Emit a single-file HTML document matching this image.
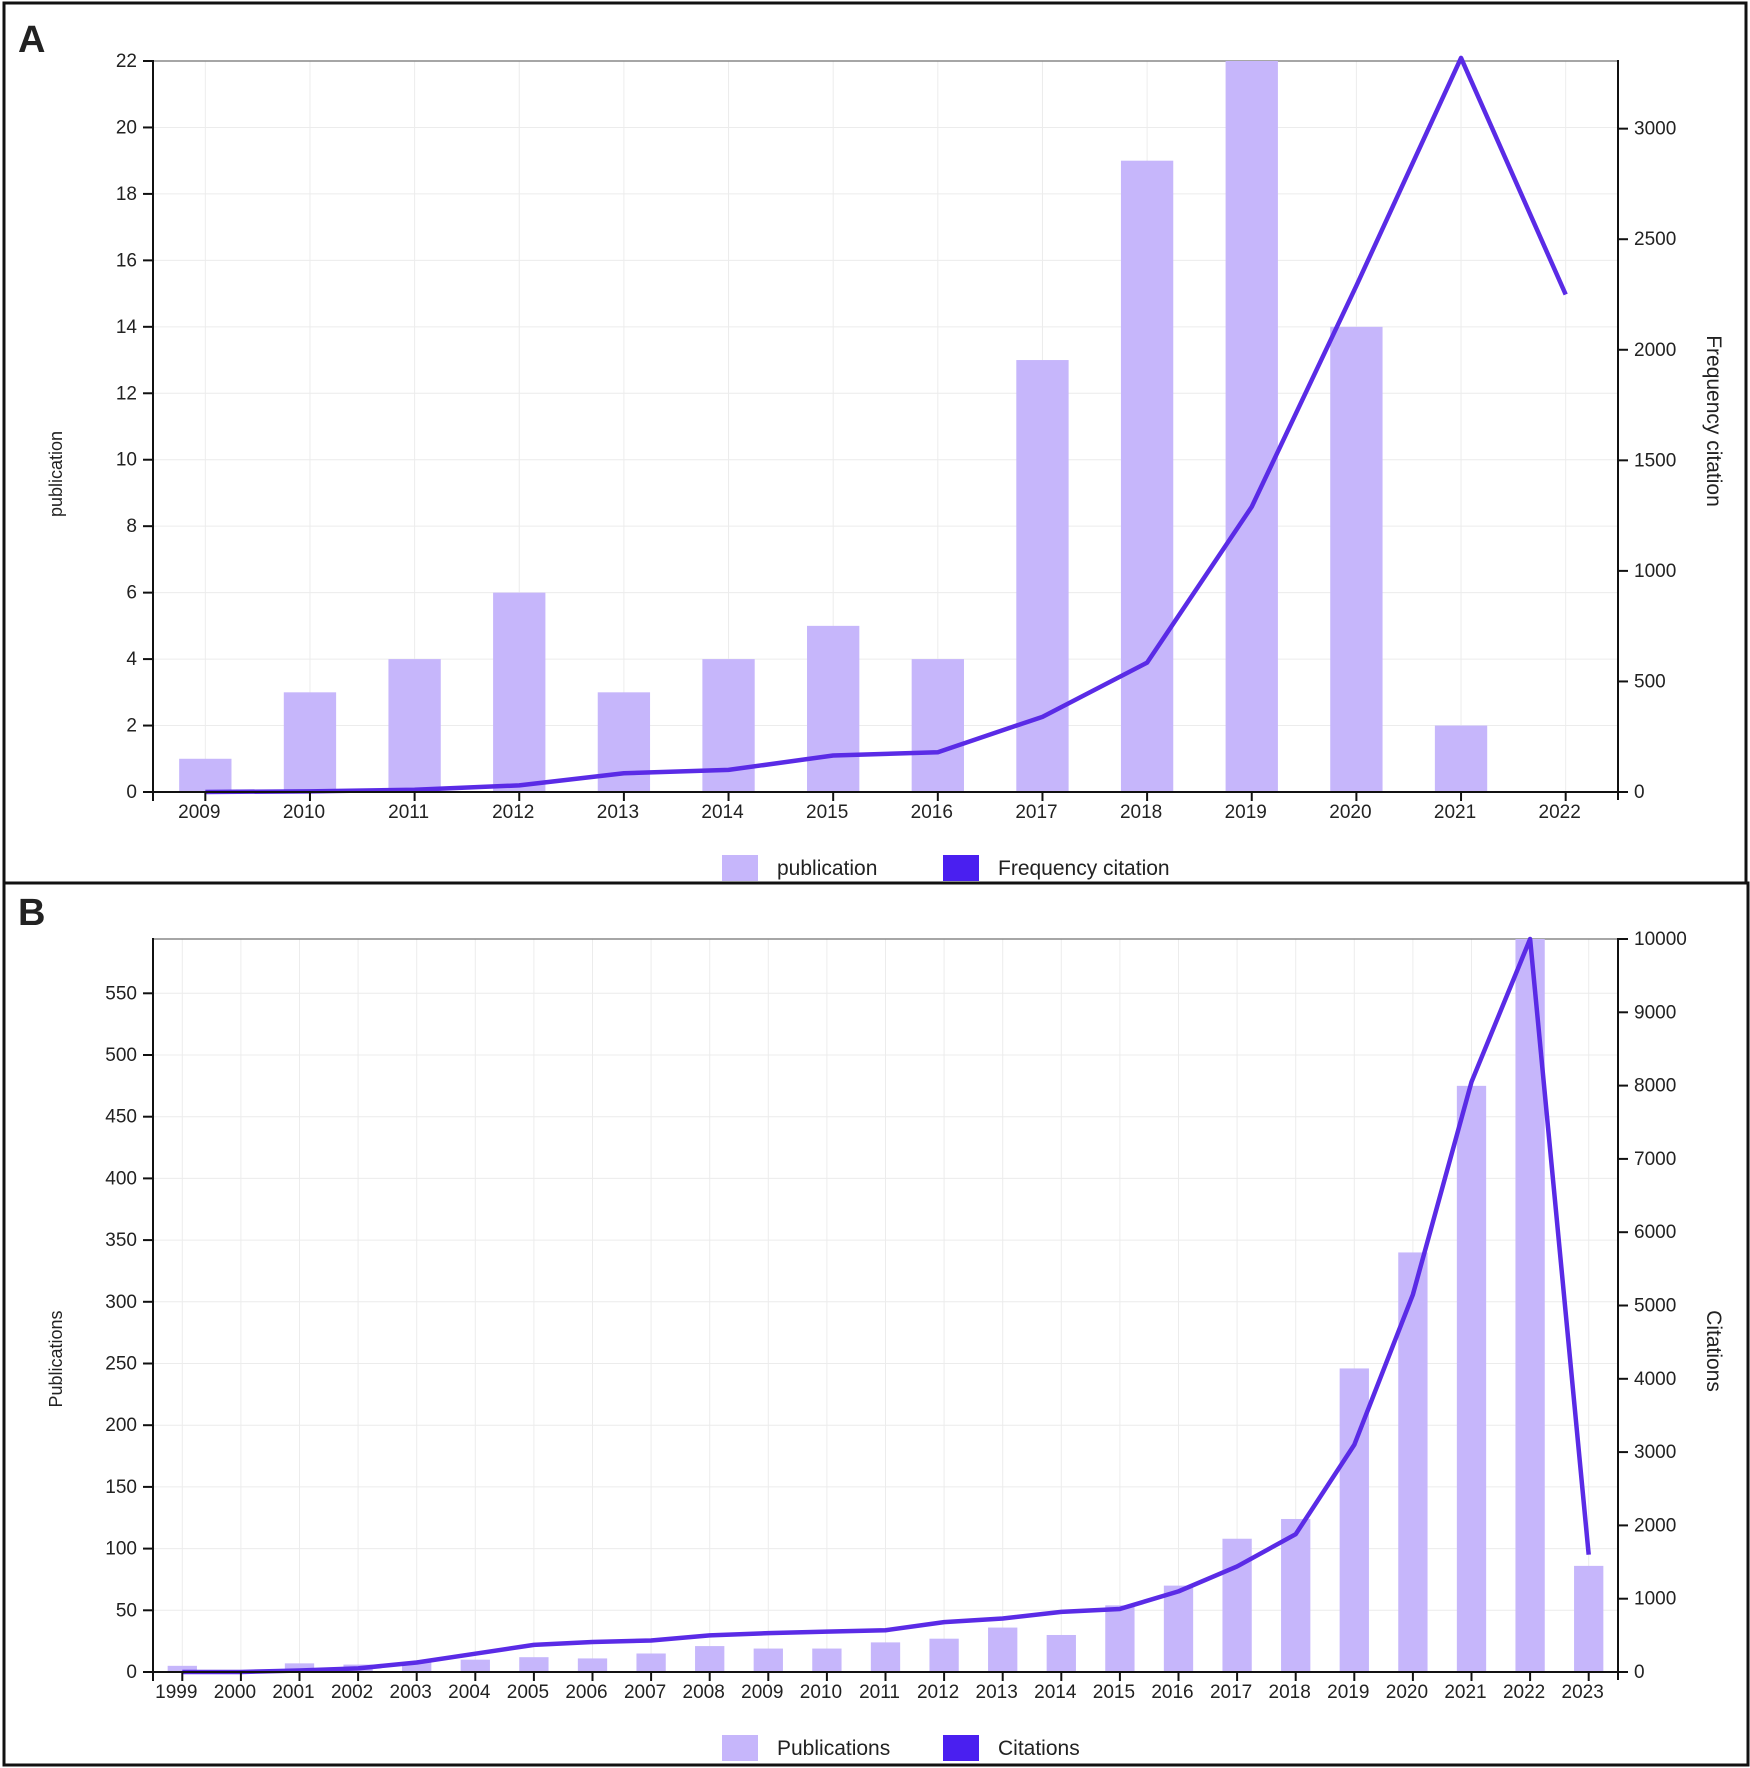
<!DOCTYPE html>
<html><head><meta charset="utf-8"><style>
html,body{margin:0;padding:0;background:#fff}
svg{display:block}
text{font-family:"Liberation Sans","DejaVu Sans",sans-serif;fill:#222}
</style></head><body>
<svg id="chart" width="1750" height="1768" viewBox="0 0 1750 1768" xmlns="http://www.w3.org/2000/svg">
<rect x="4" y="3" width="1742" height="880" fill="none" stroke="#111" stroke-width="3"/>
<rect x="4" y="883" width="1744" height="882" fill="none" stroke="#111" stroke-width="3"/>
<text x="18" y="52" font-size="38" font-weight="bold" fill="#000">A</text>
<text x="18" y="925" font-size="38" font-weight="bold" fill="#000">B</text>
<g id="ga"></g><g id="gb"></g>
</svg>
<script>
const yearsA=["2009","2010","2011","2012","2013","2014","2015","2016","2017","2018","2019","2020","2021","2022"];
const pubsA=[1,3,4,6,3,4,5,4,13,19,22,14,2,0];
const citesA=[0,3,10,30,85,100,165,180,340,585,1290,2290,3320,2250];
const leftTicksA=[0,2,4,6,8,10,12,14,16,18,20,22];
const rightTicksA=[0,500,1000,1500,2000,2500,3000];
const yearsB=["1999","2000","2001","2002","2003","2004","2005","2006","2007","2008","2009","2010","2011","2012","2013","2014","2015","2016","2017","2018","2019","2020","2021","2022","2023"];
const pubsB=[5,1,7,6,8,10,12,11,15,21,19,19,24,27,36,30,54,70,108,124,246,340,475,594,86];
const citesB=[0,0,20,50,130,250,370,410,430,500,530,550,570,680,730,820,860,1100,1440,1880,3100,5150,8050,10000,1600];
const leftTicksB=[0,50,100,150,200,250,300,350,400,450,500,550];
const rightTicksB=[0,1000,2000,3000,4000,5000,6000,7000,8000,9000,10000];
const NS="http://www.w3.org/2000/svg";
function mk(p,tag,at,txt){const e=document.createElementNS(NS,tag);for(const k in at)e.setAttribute(k,at[k]);if(txt!==undefined)e.textContent=txt;p.appendChild(e);return e;}
function draw(g,cfg){
 const L=153,R=1618,T=cfg.top,B=cfg.bottom;
 const n=cfg.cats.length,bw=(R-L)/n;
 const xC=i=>L+bw*(i+0.5);
 const yL=v=>B-(v/cfg.lMax)*(B-T);
 const yR=v=>B-(v/cfg.rMax)*(B-T);
 cfg.lTicks.forEach(v=>{
  let l=mk(g,'line',{x1:L,x2:R,y1:yL(v),y2:yL(v),stroke:'#ececec','stroke-width':1});
  
  
 });
 cfg.cats.forEach((c,i)=>{
  let l=mk(g,'line',{x1:xC(i),x2:xC(i),y1:T,y2:B,stroke:'#ececec','stroke-width':1});
  
  
 });
 mk(g,'line',{x1:L,x2:R,y1:T,y2:T,stroke:'#888','stroke-width':1.5});
 cfg.pubs.forEach((v,i)=>{
  let r=mk(g,'rect',{x:xC(i)-bw*cfg.barFrac/2,y:yL(v),width:bw*cfg.barFrac,height:B-yL(v),fill:'#c6b6fb'});
  
  
 });
 const pts=cfg.cites.map((v,i)=>xC(i)+','+yR(v)).join(' ');
 let pl=mk(g,'polyline',{points:pts,fill:'none',stroke:'#5a2be6','stroke-width':4.5,'stroke-linejoin':'round'});
 
 
 mk(g,'line',{x1:L,x2:L,y1:T-1,y2:B,stroke:'#111','stroke-width':2});
 mk(g,'line',{x1:R,x2:R,y1:T-1,y2:B+8,stroke:'#111','stroke-width':2});
 mk(g,'line',{x1:L,x2:R,y1:B,y2:B,stroke:'#111','stroke-width':2});
 cfg.lTicks.forEach(v=>{
  mk(g,'line',{x1:L-10,x2:L,y1:yL(v),y2:yL(v),stroke:'#111','stroke-width':2});
  let t=mk(g,'text',{x:L-16,y:yL(v)+6,'text-anchor':'end','font-size':19},String(v));
  
  
 });
 cfg.rTicks.forEach(v=>{
  mk(g,'line',{x1:R,x2:R+10,y1:yR(v),y2:yR(v),stroke:'#111','stroke-width':2});
  let t=mk(g,'text',{x:R+16,y:yR(v)+6,'font-size':19},String(v));
  
  
 });
 cfg.cats.forEach((c,i)=>{
  mk(g,'line',{x1:xC(i),x2:xC(i),y1:B,y2:B+9,stroke:'#111','stroke-width':2});
  let t=mk(g,'text',{x:xC(i)-6,y:B+26,'text-anchor':'middle','font-size':19},c);
  
  
 });
 mk(g,'line',{x1:L,x2:L,y1:B,y2:B+9,stroke:'#111','stroke-width':2});
 let yt=mk(g,'text',{x:0,y:0,transform:`translate(62,${cfg.lTitleY}) rotate(-90)`,'text-anchor':'middle','font-size':18},cfg.lTitle);
 
 
 let rt=mk(g,'text',{x:0,y:0,transform:`translate(1707,${cfg.rTitleY}) rotate(90)`,'text-anchor':'middle','font-size':21},cfg.rTitle);
 
 
 const ly=cfg.legY;
 let b1=mk(g,'rect',{x:722,y:ly-13,width:36,height:26,fill:'#c6b6fb'});
 
 
 let t1=mk(g,'text',{x:777,y:ly+7,'font-size':21},cfg.legBar);
 
 
 let b2=mk(g,'rect',{x:943,y:ly-13,width:36,height:26,fill:'#4a1ff0'});
 
 
 let t2=mk(g,'text',{x:998,y:ly+7,'font-size':21},cfg.legLine);
 
 
}
draw(document.getElementById('ga'),{cats:yearsA,pubs:pubsA,cites:citesA,lTicks:leftTicksA,rTicks:rightTicksA,lMax:22,rMax:3306,top:61,bottom:792,barFrac:0.5,lTitle:'publication',lTitleY:474,rTitle:'Frequency citation',rTitleY:421,legY:868,legBar:'publication',legLine:'Frequency citation'});
draw(document.getElementById('gb'),{cats:yearsB,pubs:pubsB,cites:citesB,lTicks:leftTicksB,rTicks:rightTicksB,lMax:594,rMax:10000,top:939,bottom:1672,barFrac:0.5,lTitle:'Publications',lTitleY:1359,rTitle:'Citations',rTitleY:1351,legY:1748,legBar:'Publications',legLine:'Citations'});
</script>
</body></html>
